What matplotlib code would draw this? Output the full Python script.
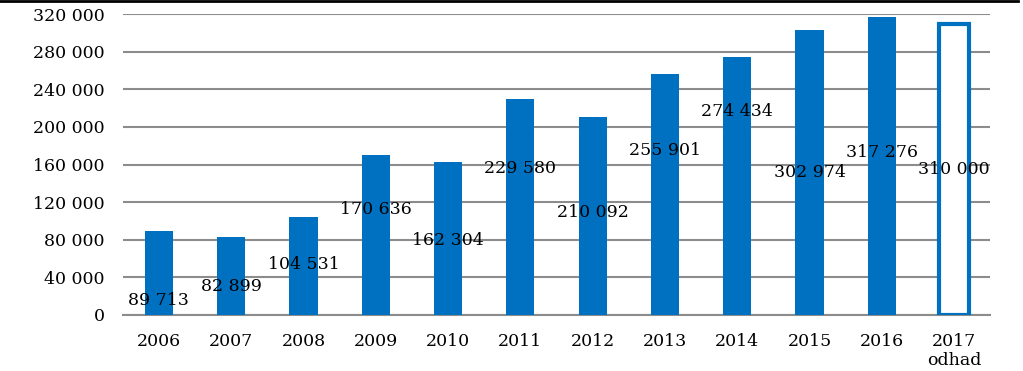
import matplotlib
matplotlib.use("Agg")
import matplotlib.pyplot as plt
from matplotlib.ticker import FuncFormatter

years = ["2006", "2007", "2008", "2009", "2010", "2011", "2012", "2013", "2014", "2015", "2016", "2017\nodhad"]
values = [89713, 82899, 104531, 170636, 162304, 229580, 210092, 255901, 274434, 302974, 317276, 310000]
label_texts = ["89 713", "82 899", "104 531", "170 636", "162 304", "229 580", "210 092",
               "255 901", "274 434", "302 974", "317 276", "310 000"]
label_y = [15900, 29800, 54200, 112700, 79700, 156300, 109500, 175400, 216900, 152000, 173300, 154200]
yticks = [0, 40000, 80000, 120000, 160000, 200000, 240000, 280000, 320000]

blue = "#0070C0"
plt.rcParams['font.family'] = ['DejaVu Serif']

fig = plt.figure(figsize=(10.23, 3.71), dpi=100)
ax = fig.add_axes([0.120, 0.151, 0.848, 0.811])

x = list(range(len(years)))
for i, v in enumerate(values):
    if i == len(values) - 1:
        ax.bar(i, v, width=0.41, facecolor="white", edgecolor=blue, linewidth=3, zorder=3)
    else:
        ax.bar(i, v, width=0.39, color=blue, zorder=3)
    ax.text(i, label_y[i], label_texts[i], ha="center", va="center", fontsize=12.5, color="black", zorder=4)

ax.set_xlim(-0.5, len(years) - 0.5)
ax.set_ylim(0, 320000)
ax.set_yticks(yticks)
ax.yaxis.set_major_formatter(FuncFormatter(lambda v, p: f"{int(v):,}".replace(",", " ")))
ax.set_xticks(x)
ax.set_xticklabels(years, linespacing=1.15)
ax.tick_params(axis="both", length=0, labelsize=12.5, colors="black")
ax.tick_params(axis="x", pad=13)
ax.tick_params(axis="y", pad=13)
ax.grid(axis="y", color="#8c8c8c", linewidth=1.5, zorder=0)
for s in ["top", "right", "left"]:
    ax.spines[s].set_visible(False)
ax.spines["bottom"].set_color("#8c8c8c")
ax.spines["bottom"].set_linewidth(1.5)

fig.add_artist(plt.Line2D([0, 0.995], [0.997, 0.997], transform=fig.transFigure, color="black", linewidth=2))

fig.savefig("out.png", dpi=100)
